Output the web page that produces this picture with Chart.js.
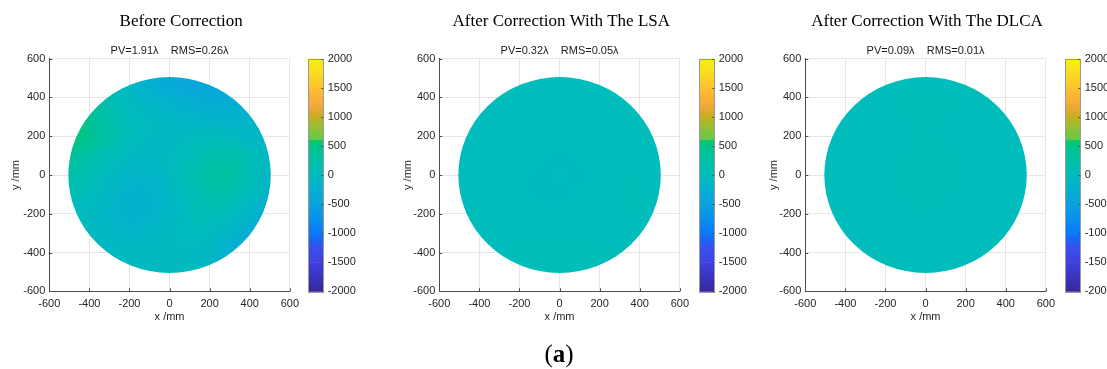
<!DOCTYPE html>
<html><head><meta charset="utf-8">
<script src="https://cdn.jsdelivr.net/npm/chart.js@4.4.0/dist/chart.umd.min.js"></script>
<style>
html,body{margin:0;padding:0;background:#fff;width:1107px;height:369px;overflow:hidden;position:relative}
canvas{position:absolute;top:0}
#lab{position:absolute;left:459px;width:200px;top:339px;text-align:center;font-family:"Liberation Serif",serif;font-size:25px;color:#000;line-height:30px}
</style></head><body>
<canvas id="m1"></canvas><canvas id="c1"></canvas>
<canvas id="m2"></canvas><canvas id="c2"></canvas>
<canvas id="m3"></canvas><canvas id="c3"></canvas>
<div id="lab">(<b>a</b>)</div>
<script>
// ---- data ----
const gridX = [-500,-400,-300,-200,-100,0,100,200,300,400,500];
const gridY = [500,400,300,200,100,0,-100,-200,-300,-400,-500];
const valuesBefore = [
 [200,100,0,-150,-300,-400,-450,-450,-450,-400,-350],
 [350,250,100,-50,-150,-250,-300,-350,-350,-300,-250],
 [550,400,200,0,-50,-100,-150,-200,-200,-200,-200],
 [550,450,250,50,-50,-100,-50,0,-50,-100,-150],
 [400,250,50,-50,-100,-50,50,200,250,100,-100],
 [250,100,-50,-150,-150,-50,100,300,300,100,-150],
 [100,0,-100,-200,-200,-100,50,200,200,0,-200],
 [0,-50,-150,-200,-200,-100,0,100,0,-150,-300],
 [-50,-50,-100,-150,-100,-50,0,-50,-150,-300,-400],
 [-50,-50,-50,-50,-50,-50,-50,-100,-250,-400,-450],
 [-50,-50,-50,-50,-50,-50,-50,-100,-250,-400,-450]
];
const valuesLSA = [
 [20,20,20,20,20,20,20,20,20,20,20],
 [20,20,10,20,30,30,30,20,20,20,20],
 [0,-10,0,20,30,40,30,20,10,20,20],
 [-10,-30,-10,20,20,10,10,20,30,20,20],
 [10,0,10,10,-10,-20,-10,10,30,30,20],
 [30,30,20,0,-20,-30,-20,10,30,40,30],
 [30,30,20,0,-20,-20,-10,10,30,40,30],
 [30,30,30,10,0,0,10,20,30,40,30],
 [30,30,30,30,20,20,20,30,30,30,30],
 [40,40,40,40,40,40,40,40,40,40,40],
 [40,40,40,40,40,40,40,40,40,40,40]
];
const valuesDLCA = [
 [30,30,30,30,30,30,30,30,30,30,30],
 [30,30,30,30,35,35,35,30,30,30,30],
 [30,25,25,30,35,35,35,30,25,25,30],
 [30,25,20,25,30,35,30,25,20,25,30],
 [30,25,20,30,40,45,40,30,20,25,30],
 [30,25,20,30,45,50,45,30,20,25,30],
 [30,25,20,30,40,45,40,30,20,25,30],
 [30,25,20,25,30,35,30,25,20,25,30],
 [30,25,25,25,25,30,25,25,25,25,30],
 [30,30,30,30,30,30,30,30,30,30,30],
 [30,30,30,30,30,30,30,30,30,30,30]
];
const panelTitles = ['Before Correction','After Correction With The LSA','After Correction With The DLCA'];
const panelStats = ['PV=1.91\u03bb    RMS=0.26\u03bb','PV=0.32\u03bb    RMS=0.05\u03bb','PV=0.09\u03bb    RMS=0.01\u03bb'];
const axisTicks = [-600,-400,-200,0,200,400,600];
const colorbarTicks = [-2000,-1500,-1000,-500,0,500,1000,1500,2000];
const colorStopValues = [-2000,-1750,-1500,-1250,-1150,-1000,-750,-500,-250,0,250,500,590,610,800,1000,1100,1250,1500,1800,2000];
const colorStopColors = ['#36289a','#3a34c0','#4040e0','#3a50ee','#2060f0','#0a78f8','#0890ec','#0aa2de','#05b0d0','#00bcbc','#00c0a8','#00c48a','#08c866','#62c84a','#90c038','#c4b020','#e0a830','#f8aa3a','#fcc22e','#f9e01c','#f5f010'];
const apertureRadius = 505;

// ---- layout ----
const panels = [
 {plotLeft:49.3, cbLeft:308.3, titleX:181.2, yTitleX:15.7, values:valuesBefore},
 {plotLeft:439.3, cbLeft:699.3, titleX:561.3, yTitleX:407.7, values:valuesLSA},
 {plotLeft:805.3, cbLeft:1065.3, titleX:927, yTitleX:773.7, values:valuesDLCA}
];
const H = 330, MW = 305, CW = 62;
const PLOT_W = 243, PLOT_TOP = 58.7, PLOT_BOTTOM = 291.3, CB_W = 15;
const sans = '"Liberation Sans", Arial, sans-serif';
const tickColor = '#262626';

function hexRgb(h){return [parseInt(h.substr(1,2),16),parseInt(h.substr(3,2),16),parseInt(h.substr(5,2),16)];}
const stopRgb = colorStopColors.map(hexRgb);
function cmap(v){
  if (v <= colorStopValues[0]) return stopRgb[0];
  for (let i=1;i<colorStopValues.length;i++){
    if (v <= colorStopValues[i]){
      const t=(v-colorStopValues[i-1])/(colorStopValues[i]-colorStopValues[i-1]);
      const a=stopRgb[i-1], b=stopRgb[i];
      return [0,1,2].map(k=>Math.round(a[k]+(b[k]-a[k])*t));
    }
  }
  return stopRgb[stopRgb.length-1];
}

const heatPlugin = {
  id:'heat',
  beforeDatasetsDraw(chart){
    const pts = chart.data.datasets[0].data;
    const xs = chart.scales.x, ys = chart.scales.y;
    const nx = gridX.length, ny = gridY.length;
    const off = document.createElement('canvas');
    off.width = nx; off.height = ny;
    const octx = off.getContext('2d');
    const img = octx.createImageData(nx, ny);
    pts.forEach(p=>{
      const i = gridX.indexOf(p.x), j = gridY.indexOf(p.y);
      const c = cmap(p.v), k = (j*nx+i)*4;
      img.data[k]=c[0]; img.data[k+1]=c[1]; img.data[k+2]=c[2]; img.data[k+3]=255;
    });
    octx.putImageData(img,0,0);
    const hx = (gridX[1]-gridX[0])/2, hy = (gridY[0]-gridY[1])/2;
    const x0 = xs.getPixelForValue(gridX[0]-hx), x1 = xs.getPixelForValue(gridX[nx-1]+hx);
    const y0 = ys.getPixelForValue(gridY[0]+hy), y1 = ys.getPixelForValue(gridY[ny-1]-hy);
    const cx = xs.getPixelForValue(0), cy = ys.getPixelForValue(0);
    const rx = xs.getPixelForValue(apertureRadius)-cx, ry = cy-ys.getPixelForValue(apertureRadius);
    const ctx = chart.ctx;
    ctx.save();
    ctx.beginPath(); ctx.ellipse(cx,cy,rx,ry,0,0,Math.PI*2); ctx.clip();
    ctx.imageSmoothingEnabled = true; ctx.imageSmoothingQuality = 'high';
    ctx.drawImage(off, x0, y0, x1-x0, y1-y0);
    ctx.restore();
  }
};

const decoPlugin = {
  id:'deco',
  afterDraw(chart, args, opts){
    const ctx = chart.ctx, a = chart.chartArea;
    ctx.save();
    ctx.strokeStyle = '#4d4d4d'; ctx.lineWidth = 1;
    ctx.beginPath();
    chart.scales.x.ticks.forEach(t=>{const px=Math.round(chart.scales.x.getPixelForValue(t.value))+0.5; ctx.moveTo(px,a.bottom); ctx.lineTo(px,a.bottom-3);});
    chart.scales.y.ticks.forEach(t=>{const py=Math.round(chart.scales.y.getPixelForValue(t.value))+0.5; ctx.moveTo(a.left,py); ctx.lineTo(a.left+3,py);});
    ctx.stroke();
    ctx.fillStyle = '#000'; ctx.textAlign='center'; ctx.textBaseline='middle';
    ctx.font = '17px "Liberation Serif", serif';
    ctx.fillText(opts.title, opts.titleX, 21.7);
    ctx.fillStyle = '#1a1a1a';
    ctx.font = '11px ' + sans;
    ctx.fillText(opts.stats, (a.left+a.right)/2, 50.7);
    ctx.restore();
  }
};

const cbPlugin = {
  id:'cb',
  beforeDatasetsDraw(chart){
    const ctx = chart.ctx, a = chart.chartArea, ys = chart.scales.y;
    ctx.save();
    for (let i=1;i<colorStopValues.length;i++){
      const yA = ys.getPixelForValue(colorStopValues[i-1]), yB = ys.getPixelForValue(colorStopValues[i]);
      const g = ctx.createLinearGradient(0,yA,0,yB);
      g.addColorStop(0,colorStopColors[i-1]); g.addColorStop(1,colorStopColors[i]);
      ctx.fillStyle = g;
      ctx.fillRect(a.left, yB, a.right-a.left, yA-yB+0.5);
    }
    ctx.strokeStyle = '#9a9a9a'; ctx.lineWidth = 1;
    ctx.strokeRect(Math.round(a.left)+0.5, Math.round(a.top)+0.5, Math.round(a.right-a.left), Math.round(a.bottom-a.top));
    ctx.strokeStyle = '#4d4d4d';
    ctx.beginPath();
    ys.ticks.forEach(t=>{const py=Math.round(ys.getPixelForValue(t.value))+0.5; ctx.moveTo(a.right,py); ctx.lineTo(a.right-2,py);});
    ctx.stroke();
    ctx.restore();
  }
};

panels.forEach((p, idx)=>{
  const m = document.getElementById('m'+(idx+1));
  const mLeft = p.plotLeft - 49.3;
  m.width = MW; m.height = H; m.style.left = mLeft+'px'; m.style.width = MW+'px'; m.style.height = H+'px';
  const pts = [];
  gridY.forEach((y,j)=>gridX.forEach((x,i)=>pts.push({x:x, y:y, v:p.values[j][i]})));
  new Chart(m, {
    type:'scatter',
    data:{datasets:[{data:pts, pointRadius:0, pointHoverRadius:0, showLine:false}]},
    options:{
      responsive:false, animation:false, events:[],
      layout:{padding:{left:0, top:PLOT_TOP, right:MW-49.3-PLOT_W, bottom:0}},
      plugins:{legend:{display:false}, tooltip:{enabled:false},
        deco:{title:panelTitles[idx], titleX:p.titleX - mLeft, stats:panelStats[idx]}},
      scales:{
        x:{type:'linear', min:-600, max:600,
          afterBuildTicks:s=>{s.ticks = axisTicks.map(v=>({value:v}));},
          afterFit:s=>{s.height = H-PLOT_BOTTOM;},
          grid:{color:'#e6e6e6', drawTicks:false}, border:{color:'#4d4d4d'},
          ticks:{font:{family:sans,size:11}, color:tickColor, padding:6, maxRotation:0, autoSkip:false, callback:v=>String(v)},
          title:{display:true, text:'x /mm', font:{family:sans,size:11}, color:tickColor, padding:{top:0,bottom:6.7}}},
        y:{type:'linear', min:-600, max:600,
          afterBuildTicks:s=>{s.ticks = axisTicks.map(v=>({value:v}));},
          afterFit:s=>{s.width = 49.3;},
          grid:{color:'#e6e6e6', drawTicks:false}, border:{color:'#4d4d4d'},
          ticks:{font:{family:sans,size:11}, color:tickColor, padding:4, autoSkip:false, callback:v=>String(v)},
          title:{display:true, text:'y /mm', font:{family:sans,size:11}, color:tickColor, padding:{top:(p.yTitleX-mLeft)-6.6,bottom:0}}}
      }
    },
    plugins:[heatPlugin, decoPlugin]
  });

  const c = document.getElementById('c'+(idx+1));
  const cLeft = p.cbLeft - 5.3;
  c.width = CW; c.height = H; c.style.left = cLeft+'px'; c.style.width = CW+'px'; c.style.height = H+'px';
  new Chart(c, {
    type:'scatter',
    data:{datasets:[{data:colorStopValues.map(v=>({x:0,y:v})), pointRadius:0, pointHoverRadius:0, showLine:false}]},
    options:{
      responsive:false, animation:false, events:[],
      layout:{padding:{left:5.3, top:PLOT_TOP, right:0, bottom:H-PLOT_BOTTOM}},
      plugins:{legend:{display:false}, tooltip:{enabled:false}},
      scales:{
        x:{type:'linear', display:false, min:-1, max:1},
        y:{type:'linear', position:'right', min:-2000, max:2000,
          afterBuildTicks:s=>{s.ticks = colorbarTicks.map(v=>({value:v}));},
          afterFit:s=>{s.width = CW-5.3-CB_W;},
          grid:{display:false, drawTicks:false}, border:{display:false},
          ticks:{font:{family:sans,size:11}, color:tickColor, padding:4.4, autoSkip:false, callback:v=>String(v)}}
      }
    },
    plugins:[cbPlugin]
  });
});
</script>
</body></html>
